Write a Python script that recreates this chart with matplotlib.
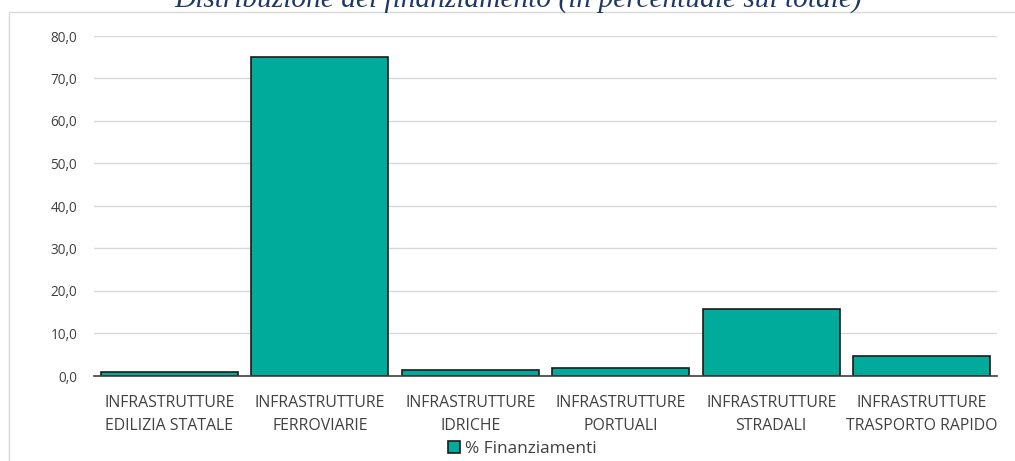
import matplotlib.pyplot as plt
from matplotlib.patches import Rectangle

categories = ['INFRASTRUTTURE\nEDILIZIA STATALE', 'INFRASTRUTTURE\nFERROVIARIE',
              'INFRASTRUTTURE\nIDRICHE', 'INFRASTRUTTURE\nPORTUALI',
              'INFRASTRUTTURE\nSTRADALI', 'INFRASTRUTTURE\nTRASPORTO RAPIDO']
values = [0.9, 75.0, 1.3, 1.8, 15.8, 4.8]
yticks = [0, 10, 20, 30, 40, 50, 60, 70, 80]

plt.rcParams['font.family'] = ['Open Sans', 'DejaVu Sans']

fig = plt.figure(figsize=(10.15, 4.61), dpi=100)
ax = fig.add_axes([94 / 1015, 1 - 376 / 461, (997 - 94) / 1015, (376 - 36) / 461])

x = range(len(categories))
ax.bar(x, values, width=0.91, color='#00AB9B', edgecolor='#1a1a1a', linewidth=1.2,
       label='% Finanziamenti', zorder=3)

ax.set_xlim(-0.5, len(categories) - 0.5)
ax.set_ylim(0, 80)
ax.set_yticks(yticks)
ax.set_yticklabels([f'{v:.1f}'.replace('.', ',') for v in yticks], fontsize=9.8, color='#404040')
ax.set_xticks(list(x))
ax.set_xticklabels(categories, fontsize=11.4, color='#404040', linespacing=1.55)
ax.tick_params(axis='y', length=0, pad=12)
ax.tick_params(axis='x', length=0, pad=14)
ax.grid(axis='y', color='#D9D9D9', linewidth=1, zorder=0)
for s in ['top', 'right', 'left']:
    ax.spines[s].set_visible(False)
ax.spines['bottom'].set_color('#404040')
ax.spines['bottom'].set_linewidth(1.2)
ax.spines['bottom'].set_zorder(4)

# cornice grigia del grafico
fig.patches.append(Rectangle((9 / 1015, -0.01), 1.0, 1 - 12 / 461 + 0.01,
                             transform=fig.transFigure, fill=False,
                             edgecolor='#D9D9D9', linewidth=1))

fig.text(518 / 1015, 1 - 8 / 461, 'Distribuzione del finanziamento (in percentuale sul totale)',
         ha='center', va='baseline', fontsize=21.2, style='italic',
         family='Liberation Serif', color='#1F3864')

fig.legend(loc='center', bbox_to_anchor=(522 / 1015, 1 - 449 / 461), frameon=False,
           fontsize=12.4, handlelength=0.7, handleheight=0.7, handletextpad=0.3,
           labelcolor='#404040')

fig.savefig('out.png', dpi=100)
